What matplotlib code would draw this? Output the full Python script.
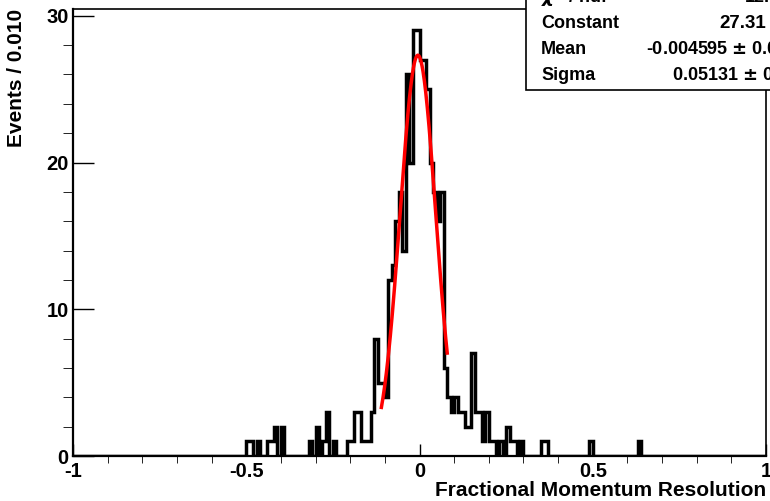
import numpy as np
import matplotlib.pyplot as plt
from matplotlib.patches import Rectangle

# histogram: bin index k -> bin [0.01*k, 0.01*(k+1)), only non-empty bins listed
bin_k = [-50, -49, -47, -44, -43, -42, -40, -32, -30, -28, -27, -25,
         -21, -20, -19, -18, -17, -16, -15, -14, -13, -12, -11, -10,
         -9, -8, -7, -6, -5, -4, -3, -2, -1,
         0, 1, 2, 3, 4, 5, 6, 7, 8, 9, 10, 11, 12, 13, 14, 15, 16, 17,
         18, 19, 20, 21, 23, 25, 26, 27, 29, 35, 36, 49, 63]
bin_n = [1, 1, 1, 1, 1, 2, 2, 1, 2, 1, 3, 1,
         1, 1, 3, 3, 1, 1, 1, 3, 8, 5, 5, 4,
         12, 13, 16, 18, 14, 26, 20, 29, 29,
         27, 27, 25, 20, 18, 16, 18, 6, 4, 3, 4, 3, 3, 2, 2, 7, 3, 3,
         1, 3, 1, 1, 1, 2, 1, 1, 1, 1, 1, 1, 1]

# gaussian fit results
fit_const = 27.31
fit_mean = -0.004595
fit_sigma = 0.05131
fit_lo, fit_hi = -0.11, 0.08

edges = np.round(np.arange(-100, 101) * 0.01, 4)
counts = np.zeros(200)
for k, n in zip(bin_k, bin_n):
    counts[k + 100] = n

plt.rcParams['font.family'] = ['Liberation Sans', 'DejaVu Sans']
plt.rcParams['font.weight'] = 'bold'

fig = plt.figure(figsize=(7.7, 5.01), dpi=100)
ax = fig.add_axes([73 / 770, 45 / 501, 693 / 770, 447 / 501])

ax.stairs(counts, edges, color='black', linewidth=2.5, baseline=0)

xf = np.linspace(fit_lo, fit_hi, 200)
yf = fit_const * np.exp(-0.5 * ((xf - fit_mean) / fit_sigma) ** 2)
ax.plot(xf, yf, color='red', linewidth=2.5)

ax.set_xlim(-1, 1)
ax.set_ylim(0, 30.46)
ax.set_xticks([-1, -0.5, 0, 0.5, 1])
ax.set_xticklabels(['-1', '-0.5', '0', '0.5', '1'])
ax.set_xticks(np.arange(-1, 1.01, 0.1), minor=True)
ax.set_yticks([0, 10, 20, 30])
ax.set_yticks(np.arange(0, 31, 2), minor=True)
ax.tick_params(direction='in', labelsize=14.5, width=1, top=False, right=False)
ax.tick_params(axis='x', which='major', length=9, pad=4)
ax.tick_params(axis='x', which='minor', length=5)
ax.tick_params(axis='y', which='major', length=15, pad=3)
ax.tick_params(axis='y', which='minor', length=7)
for s in ax.spines.values():
    s.set_linewidth(1.2)
ax.spines['left'].set_linewidth(1.6)
ax.spines['bottom'].set_linewidth(1.6)

fig.text(766 / 770, 1 - 490 / 501, 'Fractional Momentum Resolution',
         ha='right', va='center', fontsize=15, fontweight='bold')
fig.text(17 / 770, 1 - 9 / 501, 'Events / 0.010', rotation=90,
         ha='center', va='top', fontsize=15, fontweight='bold')

# stats box, running off the top right corner
box = Rectangle((526 / 770, 1 - 90 / 501), 0.5, 0.3, transform=fig.transFigure,
                facecolor='white', edgecolor='black', linewidth=1.2, zorder=5)
fig.patches.append(box)
labels = ['$\\chi^2$ / ndf', 'Constant', 'Mean', 'Sigma']
values = ['12.', '27.31', '-0.004595 $\\pm$ 0.0', '0.05131 $\\pm$ 0.']
row_y = [-3, 24, 50, 76]
val_x = [745, 713, 646, 672]
for lab, val, y, x0 in zip(labels, values, row_y, val_x):
    fig.text(541 / 770, 1 - y / 501, lab, ha='left', va='center',
             fontsize=13, fontweight='bold', zorder=6)
    if val == '27.31':
        fig.text(766 / 770, 1 - y / 501, val, ha='right', va='center',
                 fontsize=13.5, fontweight='bold', zorder=6)
    else:
        fig.text(x0 / 770, 1 - y / 501, val, ha='left', va='center',
                 fontsize=13, fontweight='bold', zorder=6)

fig.savefig('out.png', dpi=100)
